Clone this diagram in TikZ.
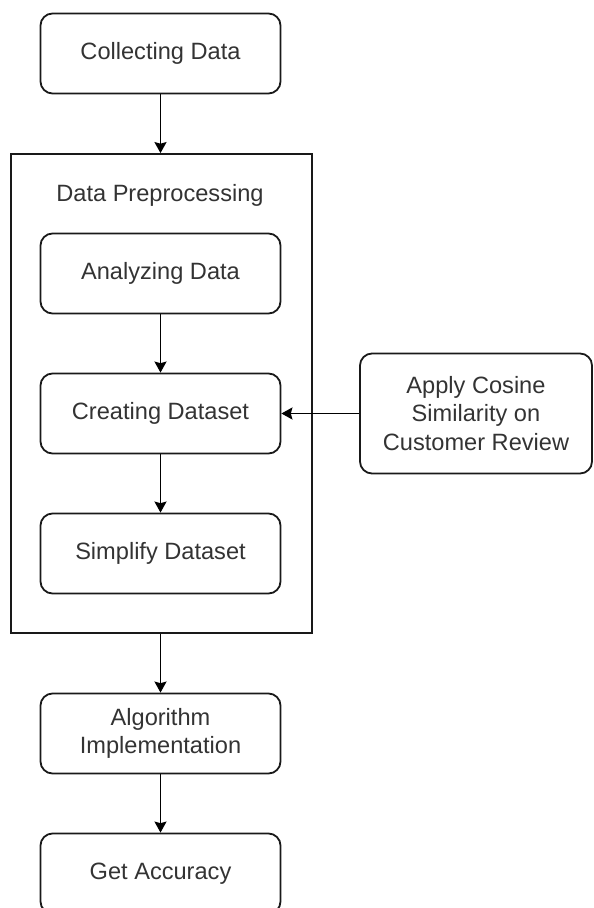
\documentclass[tikz,border=0pt]{standalone}
\usepackage{fontspec}
\setmainfont{Liberation Sans}
\usetikzlibrary{arrows.meta,positioning}

\begin{document}
\begin{tikzpicture}[x=0.5pt,y=-0.5pt,->,>={Stealth[length=5.5pt,width=6pt,inset=0.8pt]},
                    line width=0.9pt,node distance=70pt,
                    font=\fontsize{11.8}{14.2}\selectfont]
  \tikzstyle{stepbox}=[draw=black!90,text=black!80,rounded corners=6pt,
                       minimum width=120pt,minimum height=40pt,align=center]
  \useasboundingbox (0,0) rectangle (593,908);

  \node[stepbox] (collect)                     at (160.5,53.5)  {Collecting Data};
  \node[draw=black!90,inner sep=0pt,minimum width=150.5pt,
        minimum height=239.5pt] (prep)         at (161.5,393.5) {};
  \node[text=black!80] (preptitle)             at (160,195)     {Data Preprocessing};
  \node[stepbox] (analyze)                     at (160.5,273.5) {Analyzing Data};
  \node[stepbox] (create)   [below of=analyze]                  {Creating Dataset};
  \node[stepbox] (simplify) [below of=create]                   {Simplify Dataset};
  \node[stepbox] (algo)                        at (160.5,733.5) {Algorithm\\Implementation};
  \node[stepbox] (accuracy) [below of=algo]                     {Get Accuracy};
  \node[stepbox,minimum width=116pt,minimum height=60pt]
                 (cosine)                      at (476,413.5)   {Apply Cosine\\Similarity on\\Customer Review};

  \path (collect)             edge (collect |- prep.north)
        (analyze)             edge (create)
        (create)              edge (simplify)
        (prep.south -| algo)  edge (algo)
        (algo)                edge (accuracy)
        (cosine)              edge (create);
\end{tikzpicture}
\end{document}
